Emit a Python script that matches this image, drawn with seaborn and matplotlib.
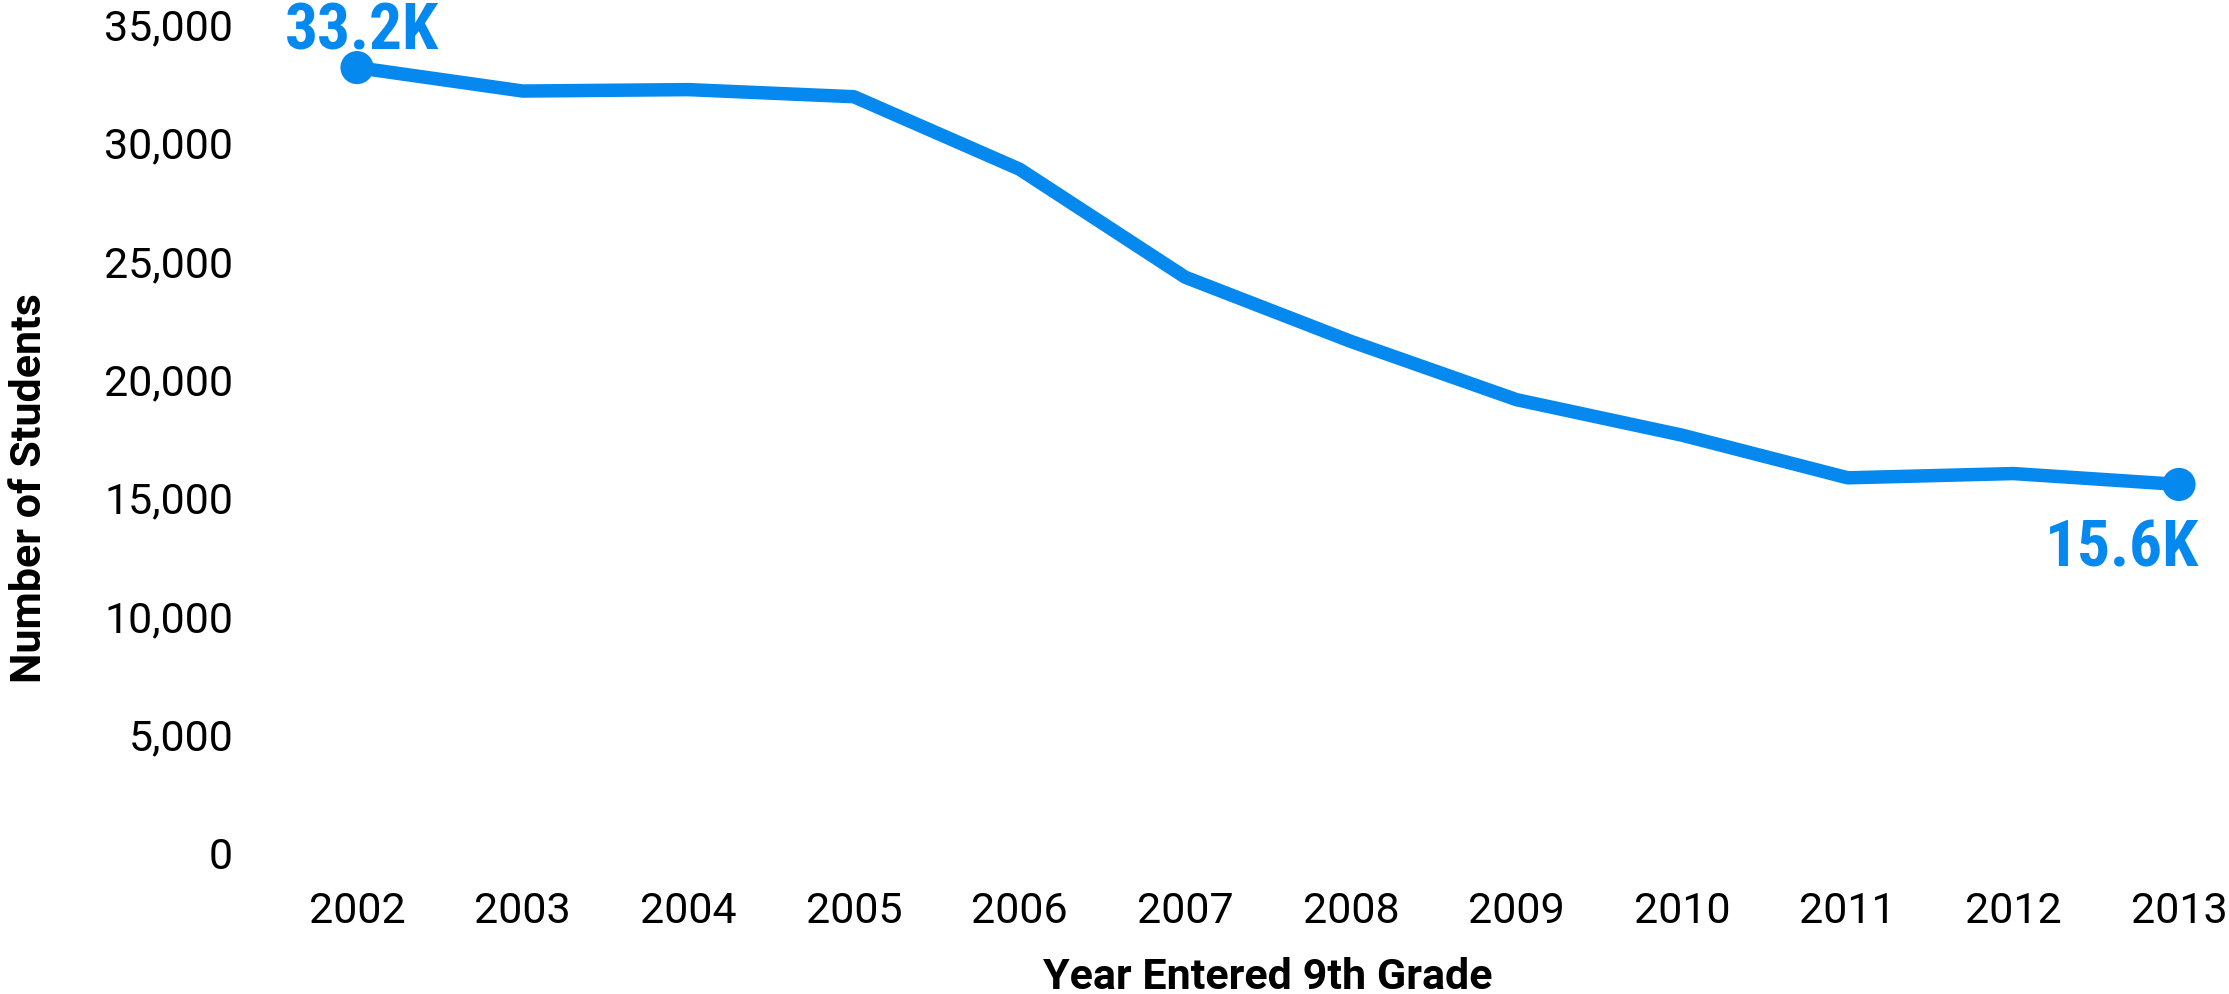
import os
import matplotlib
matplotlib.use("Agg")
import matplotlib.pyplot as plt
from matplotlib import font_manager
import pandas as pd
import seaborn as sns

# 데이터
years = [2002, 2003, 2004, 2005, 2006, 2007, 2008, 2009, 2010, 2011, 2012, 2013]
students = [33160, 32170, 32230, 31930, 28870, 24310, 21600, 19140, 17640, 15840, 16020, 15560]
end_labels = ["33.2K", "15.6K"]
y_ticks = [0, 5000, 10000, 15000, 20000, 25000, 30000, 35000]

BLUE = "#0589EE"

sns.set_style("white")
plt.rcParams["font.family"] = ["Roboto", "DejaVu Sans"]
plt.rcParams["text.color"] = "black"
plt.rcParams["xtick.color"] = "black"
plt.rcParams["ytick.color"] = "black"
plt.rcParams["axes.labelcolor"] = "black"


def narrow_bold(key):
    # 좁은 굵은 글꼴 찾기
    for f in font_manager.fontManager.ttflist:
        nm = (f.name + " " + os.path.basename(f.fname)).lower()
        if key not in nm:
            continue
        narrow = ("condensed" in nm or "narrow" in nm
                  or f.stretch in ("condensed", "semi-condensed"))
        if narrow and f.weight in (700, "bold") and f.style == "normal" and "italic" not in nm:
            return f.fname
    return None


ann_font = font_manager.FontProperties(family="Roboto", weight="bold", size=40)
for key, size in [("roboto", 47), ("liberation", 46)]:
    path = narrow_bold(key)
    if path:
        ann_font = font_manager.FontProperties(fname=path, size=size)
        break

df = pd.DataFrame({"year": years, "students": students})
ends = df.iloc[[0, -1]]

fig = plt.figure(figsize=(22.29, 9.94), dpi=100)
ax = fig.add_axes([0.12302, 0.14185, 0.87313, 0.83400])

sns.lineplot(data=df, x="year", y="students", ax=ax, color=BLUE, linewidth=9.7)
sns.scatterplot(data=ends, x="year", y="students", ax=ax, color=BLUE, s=570,
                edgecolor="none", zorder=5, clip_on=False)

ax.set_xlim(2001.5, 2013.25)
ax.set_ylim(0, 35000)
ax.set_xticks(years)
ax.set_xticklabels([str(y) for y in years])
ax.set_yticks(y_ticks)
ax.set_yticklabels([f"{v:,}" for v in y_ticks])
ax.tick_params(axis="both", length=0, labelsize=31)
ax.tick_params(axis="y", pad=29.5)
ax.tick_params(axis="x", pad=27)
sns.despine(ax=ax, left=True, bottom=True)

ax.set_xlabel("Year Entered 9th Grade", fontsize=31, fontweight="bold")
ax.set_ylabel("Number of Students", fontsize=31, fontweight="bold")
ax.xaxis.set_label_coords(0.5106, -0.1255)
ax.yaxis.set_label_coords(-0.1152, 0.4403)

ax.annotate(end_labels[0], xy=(years[0], students[0]), xytext=(5, 18),
            textcoords="offset pixels", ha="center", va="baseline",
            fontproperties=ann_font, color=BLUE, annotation_clip=False)
ax.annotate(end_labels[1], xy=(years[-1], students[-1]), xytext=(20, -82),
            textcoords="offset pixels", ha="right", va="baseline",
            fontproperties=ann_font, color=BLUE, annotation_clip=False)

fig.savefig("out.png", dpi=100)
